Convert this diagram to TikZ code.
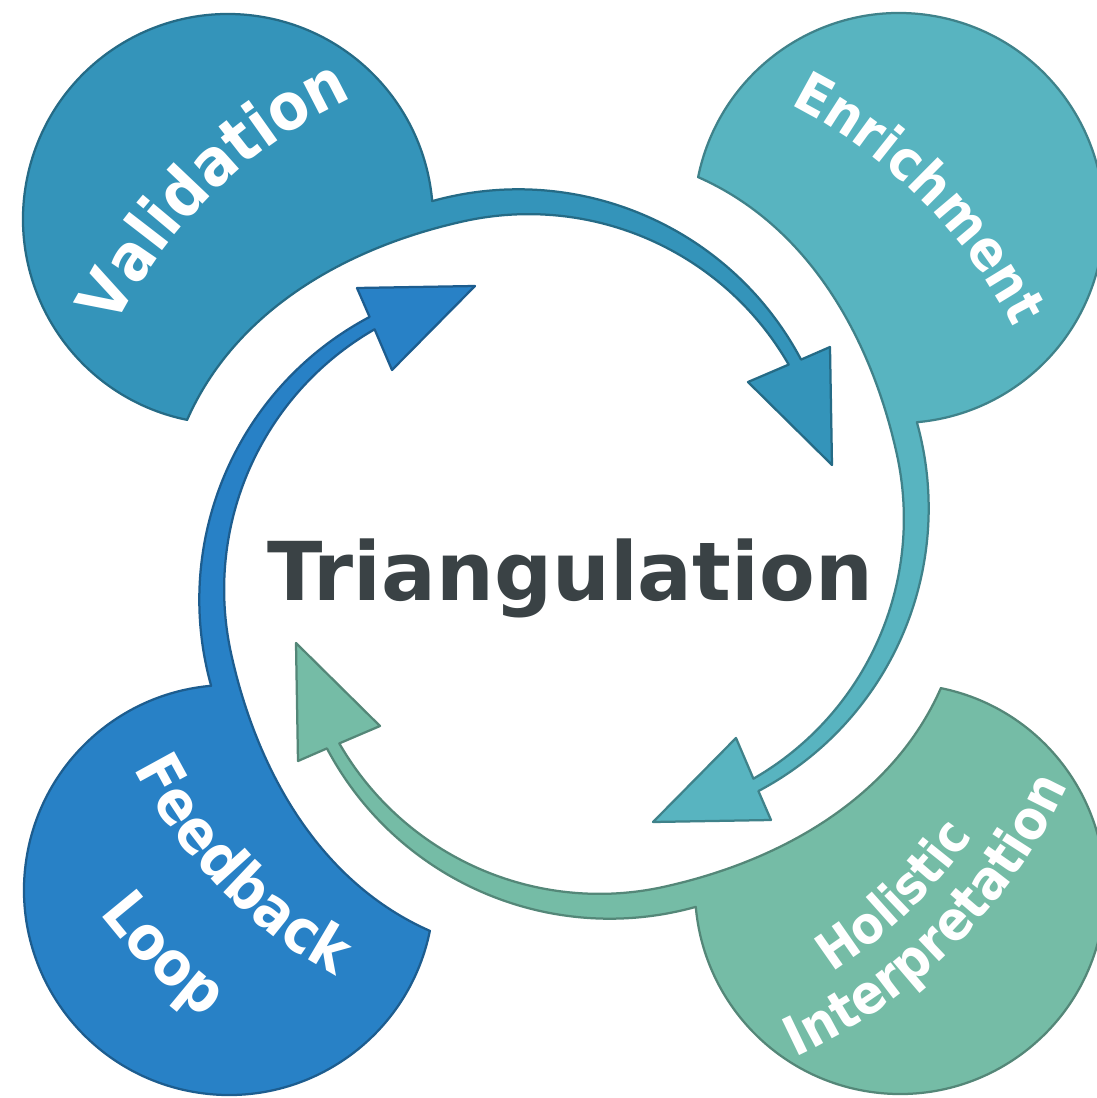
\documentclass[tikz,border=0pt]{standalone}
\usepackage{fontspec}
\setmainfont{DejaVu Sans}
\newfontfamily\narrowfam[FakeStretch=0.9]{DejaVu Sans}
\usepackage{xcolor}
\usepackage{tikz}
\usetikzlibrary{calc, decorations.text}

\definecolor{valfill}{RGB}{52,148,186}
\definecolor{enrfill}{RGB}{88,180,192}
\definecolor{holfill}{RGB}{117,188,166}
\definecolor{fbfill}{RGB}{40,129,198}
\definecolor{hubtext}{RGB}{58,66,69}

\newcommand{\labelsize}[1]{\narrowfam\bfseries\fontsize{#1}{#1}\selectfont}
\newcommand{\hubfont}{\bfseries\fontsize{46.2}{54}\selectfont}

\begin{document}
\begin{tikzpicture}[
  x=0.2mm, y=0.2mm,
  blob/.style={line width=0.45mm, line join=round},
  bloblabel/.style 2 args={decorate, decoration={text along path, text align=center,
    text color=white, text={|\labelsize{#1}|#2}}},
]
  % ── Canvas ──
  \fill[white] (-564,-544) rectangle (533,554);
  \useasboundingbox (-564,-544) rectangle (533,554);

  % ── Four blobs with tapered tails, turned round the hub ──
  \foreach \ang/\col in {0/valfill, -90/enrfill, -180/holfill, -270/fbfill} {
    \begin{scope}[rotate=\ang]
      \filldraw[blob, fill=\col, draw=\col!72!black]
        (-336,335) ++(258.5:205) arc[start angle=258.5, end angle=5, radius=205]
        arc[start angle=105.6, end angle=27.9, radius=320]
        -- (266,207) -- (268,89) -- (184,172) -- (224.7,189.4)
        arc[start angle=29.9, end angle=102.45, radius=300]
        to[out=192.45, in=66.2, looseness=0.9] (-376.9,134.1)
        -- cycle;
    \end{scope}
  }

  % ── Blob labels ──
  \path[bloblabel={37}{Validation}] (174:503) arc[start angle=174, end angle=94, radius=503];
  \path[bloblabel={31.5}{Enrichment}] (85:503) arc[start angle=85, end angle=5, radius=503];
  \path[bloblabel={29.5}{Holistic}] (-86:497) arc[start angle=-86, end angle=-6, radius=497];
  \path[bloblabel={31}{Interpretation}] (-90:554) arc[start angle=-90, end angle=0, radius=554];
  \path[bloblabel={34.4}{Feedback}] (184:480) arc[start angle=184, end angle=264, radius=480];
  \path[bloblabel={34.7}{Loop}] (195:587) arc[start angle=195, end angle=255, radius=587];

  % ── Hub ──
  \node[font=\hubfont, text=hubtext, anchor=base] (hub) at (6,-46) {Triangulation};

\end{tikzpicture}
\end{document}
